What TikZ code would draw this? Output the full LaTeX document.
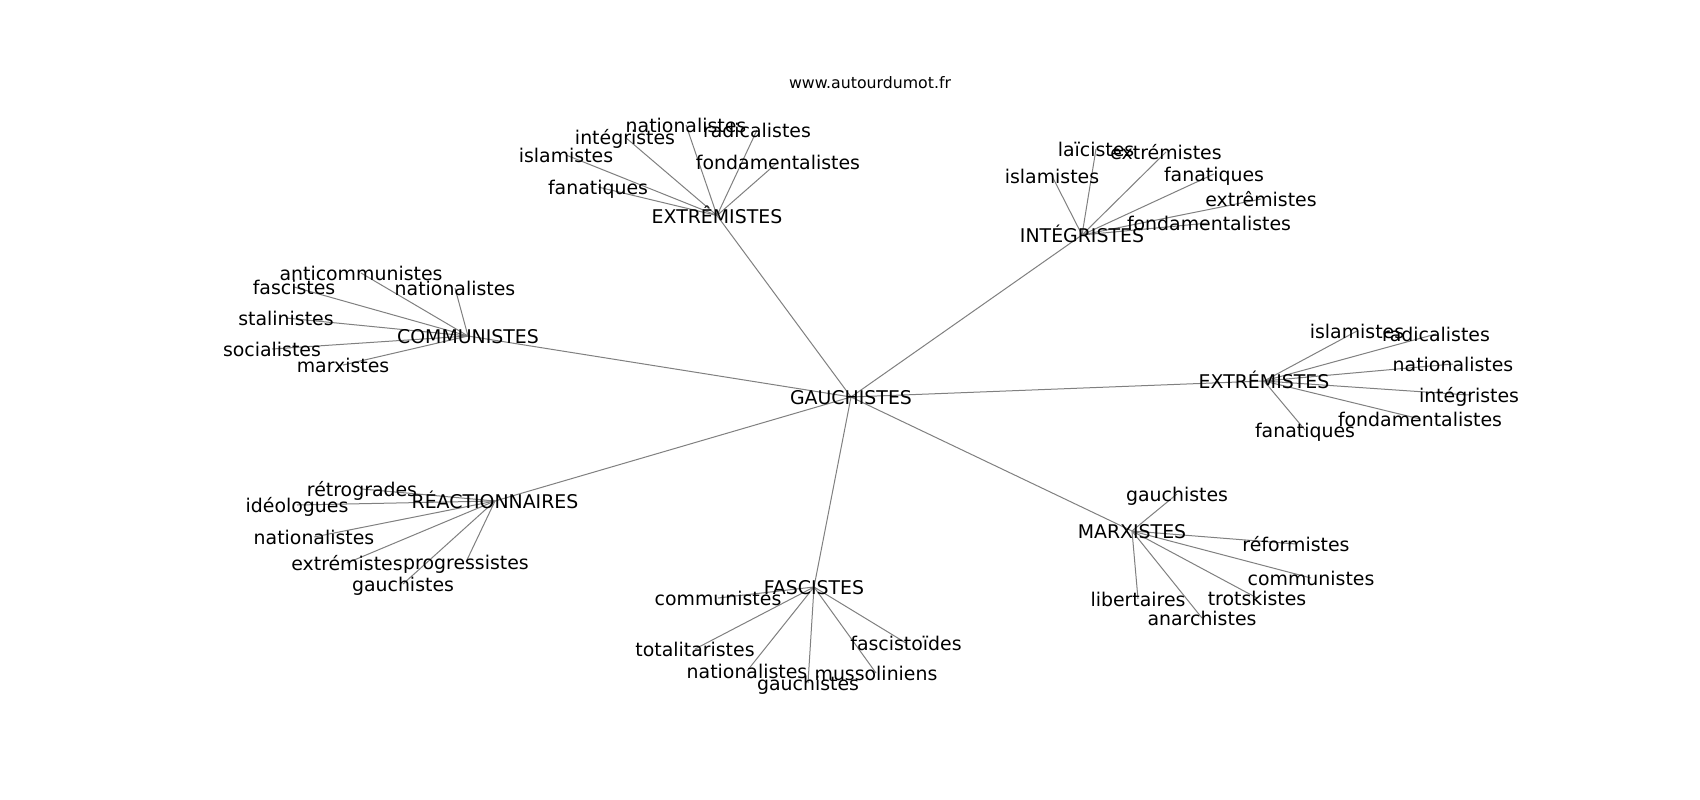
\documentclass[tikz,border=0pt]{standalone}
\usepackage{fontspec}
\setmainfont{DejaVu Sans}
\begin{document}
\begin{tikzpicture}[x=1pt,y=-1pt,
  lbl/.style={inner sep=0pt,outer sep=0pt,text height=14.4pt,text depth=4.5pt,
    font=\fontsize{18.9}{22}\selectfont,text=black,yshift=-3pt},
  ttl/.style={inner sep=0pt,outer sep=0pt,text height=12pt,text depth=3.8pt,
    font=\fontsize{15.75}{18}\selectfont,text=black},
  edge/.style={draw=gray,line width=1pt}]
\useasboundingbox (0,0) rectangle (1700,800);
\fill[white] (0,0) rectangle (1700,800);
% hubs
\coordinate (G) at (851,397);
\coordinate (E1) at (717,215.5);
\coordinate (I) at (1082,235);
\coordinate (C) at (468,336);
\coordinate (E2) at (1264,381);
\coordinate (R) at (495,501);
\coordinate (F) at (814,587);
\coordinate (M) at (1132,531);
% leaves E1
\coordinate (e1a) at (686,125);
\coordinate (e1b) at (757,130);
\coordinate (e1c) at (625,137);
\coordinate (e1d) at (566,155);
\coordinate (e1e) at (778,162);
\coordinate (e1f) at (598,187);
% leaves I
\coordinate (ia) at (1096,149);
\coordinate (ib) at (1166,152);
\coordinate (ic) at (1052,176);
\coordinate (id) at (1214,174);
\coordinate (ie) at (1261,199);
\coordinate (if) at (1209,223);
% leaves C
\coordinate (ca) at (361,273);
\coordinate (cb) at (294,287);
\coordinate (cc) at (455,288);
\coordinate (cd) at (286,318);
\coordinate (ce) at (272,349);
\coordinate (cf) at (343,365);
% leaves E2
\coordinate (e2a) at (1357,331);
\coordinate (e2b) at (1436,334);
\coordinate (e2c) at (1453,364);
\coordinate (e2d) at (1469,395);
\coordinate (e2e) at (1420,419);
\coordinate (e2f) at (1305,430);
% leaves R
\coordinate (ra) at (362,489);
\coordinate (rb) at (297,505);
\coordinate (rc) at (314,537);
\coordinate (rd) at (347,563);
\coordinate (re) at (466,562);
\coordinate (rf) at (403,584);
% leaves F
\coordinate (fa) at (718,598);
\coordinate (fb) at (695,649);
\coordinate (fc) at (906,643);
\coordinate (fd) at (747,671);
\coordinate (fe) at (876,673);
\coordinate (ff) at (808,683);
% leaves M
\coordinate (ma) at (1177,494);
\coordinate (mb) at (1296,544);
\coordinate (mc) at (1311,578);
\coordinate (md) at (1257,598);
\coordinate (me) at (1138,599);
\coordinate (mf) at (1202,618);
% edges
\foreach \h in {E1,I,C,E2,R,F,M} \draw[edge] (G) -- (\h);
\foreach \l in {e1a,e1b,e1c,e1d,e1e,e1f} \draw[edge] (E1) -- (\l);
\foreach \l in {ia,ib,ic,id,ie,if} \draw[edge] (I) -- (\l);
\foreach \l in {ca,cb,cc,cd,ce,cf} \draw[edge] (C) -- (\l);
\foreach \l in {e2a,e2b,e2c,e2d,e2e,e2f} \draw[edge] (E2) -- (\l);
\foreach \l in {ra,rb,rc,rd,re,rf} \draw[edge] (R) -- (\l);
\foreach \l in {fa,fb,fc,fd,fe,ff} \draw[edge] (F) -- (\l);
\foreach \l in {ma,mb,mc,md,me,mf} \draw[edge] (M) -- (\l);
% labels
\node[ttl] (title) at (870,84) {www.autourdumot.fr};
\node[lbl] (tG) at (G) {GAUCHISTES};
\node[lbl] (tE1) at (E1) {EXTRÊMISTES};
\node[lbl] (tI) at (I) {INTÉGRISTES};
\node[lbl] (tC) at (C) {COMMUNISTES};
\node[lbl] (tE2) at (E2) {EXTRÉMISTES};
\node[lbl] (tR) at (R) {RÉACTIONNAIRES};
\node[lbl] (tF) at (F) {FASCISTES};
\node[lbl] (tM) at (M) {MARXISTES};
\node[lbl] at (e1a) {nationalistes};
\node[lbl] at (e1b) {radicalistes};
\node[lbl] at (e1c) {intégristes};
\node[lbl] at (e1d) {islamistes};
\node[lbl] at (e1e) {fondamentalistes};
\node[lbl] at (e1f) {fanatiques};
\node[lbl] at (ia) {laïcistes};
\node[lbl] at (ib) {extrémistes};
\node[lbl] at (ic) {islamistes};
\node[lbl] at (id) {fanatiques};
\node[lbl] at (ie) {extrêmistes};
\node[lbl] at (if) {fondamentalistes};
\node[lbl] at (ca) {anticommunistes};
\node[lbl] at (cb) {fascistes};
\node[lbl] at (cc) {nationalistes};
\node[lbl] at (cd) {stalinistes};
\node[lbl] at (ce) {socialistes};
\node[lbl] at (cf) {marxistes};
\node[lbl] at (e2a) {islamistes};
\node[lbl] at (e2b) {radicalistes};
\node[lbl] at (e2c) {nationalistes};
\node[lbl] at (e2d) {intégristes};
\node[lbl] at (e2e) {fondamentalistes};
\node[lbl] at (e2f) {fanatiques};
\node[lbl] at (ra) {rétrogrades};
\node[lbl] at (rb) {idéologues};
\node[lbl] at (rc) {nationalistes};
\node[lbl] at (rd) {extrémistes};
\node[lbl] at (re) {progressistes};
\node[lbl] at (rf) {gauchistes};
\node[lbl] at (fa) {communistes};
\node[lbl] at (fb) {totalitaristes};
\node[lbl] at (fc) {fascistoïdes};
\node[lbl] at (fd) {nationalistes};
\node[lbl] at (fe) {mussoliniens};
\node[lbl] at (ff) {gauchistes};
\node[lbl] at (ma) {gauchistes};
\node[lbl] at (mb) {réformistes};
\node[lbl] at (mc) {communistes};
\node[lbl] at (md) {trotskistes};
\node[lbl] at (me) {libertaires};
\node[lbl] at (mf) {anarchistes};
\end{tikzpicture}
\end{document}
